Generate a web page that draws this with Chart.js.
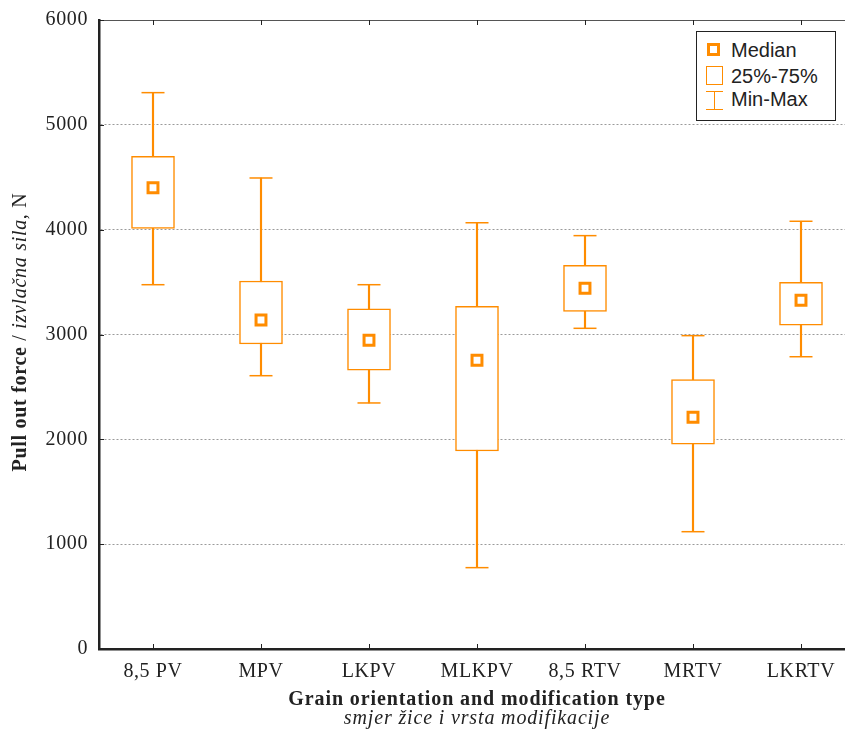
<!DOCTYPE html>
<html>
<head>
<meta charset="utf-8">
<script src="https://cdn.jsdelivr.net/npm/chart.js@4.4.1/dist/chart.umd.min.js"></script>
<style>
    html, body { margin: 0; padding: 0; background: #fff; overflow: hidden; }
    #wrap { position: relative; width: 845px; height: 743px; overflow: hidden; }
    #chart { position: absolute; left: 0; top: 0; }
    #legend {
        position: absolute; left: 696px; top: 31px; width: 140px; height: 90px;
        box-sizing: border-box; border: 1px solid #222; background: #fff;
        font-family: 'Liberation Sans', Arial, sans-serif; font-size: 20px; color: #222;
    }
    #legend .row { position: absolute; left: 34px; line-height: 22px; white-space: nowrap; }
    #legend .ico { position: absolute; box-sizing: border-box; }
    .ico-med { left: 10px; top: 11px; width: 13px; height: 13px; border: 3px solid #ff8c00; }
    .ico-box { left: 9px; top: 34px; width: 17px; height: 19px; border: 1.5px solid #ff8c00; }
    .ico-rng { left: 9px; top: 59px; width: 17px; height: 19px; border-top: 1.5px solid #ff8c00; border-bottom: 1.5px solid #ff8c00; }
    .ico-rng::after { content: ''; position: absolute; left: 7.5px; top: 0; width: 1.5px; height: 100%; background: #ff8c00; }
</style>
</head>
<body>
<div id="wrap">
    <canvas id="chart" width="868" height="743"></canvas>
    <div id="legend">
        <div class="ico ico-med"></div><div class="row" style="top:7px">Median</div>
        <div class="ico ico-box"></div><div class="row" style="top:33px">25%-75%</div>
        <div class="ico ico-rng"></div><div class="row" style="top:56px">Min-Max</div>
    </div>
</div>
<script>
const categories = ['8,5 PV', 'MPV', 'LKPV', 'MLKPV', '8,5 RTV', 'MRTV', 'LKRTV'];
const minValues = [3475, 2607, 2347, 776, 3059, 1119, 2788];
const q1Values = [4013, 2909, 2659, 1889, 3221, 1953, 3088];
const medianValues = [4400, 3138, 2945, 2754, 3441, 2210, 3326];
const q3Values = [4700, 3510, 3246, 3269, 3660, 2569, 3498];
const maxValues = [5307, 4493, 3475, 4066, 3943, 2989, 4080];
const yMin = 0, yMax = 6000, yStep = 1000;

const orange = '#ff8c00';
const serif = '"Liberation Serif", "Times New Roman", serif';

// the original text is set a bit wide, so spread the letters
const spacingPlugin = {
    id: 'spacing',
    beforeDraw(chart) { chart.ctx.letterSpacing = '0.6px'; },
    afterDraw(chart) { chart.ctx.letterSpacing = '0px'; }
};

// frame, inner tick marks and axis titles
const framePlugin = {
    id: 'frame',
    afterDraw(chart) {
        const { ctx, chartArea: a, scales: { x, y } } = chart;
        ctx.save();
        ctx.strokeStyle = '#555';
        ctx.lineWidth = 1;
        ctx.beginPath();
        ctx.moveTo(a.left, a.top + 0.5);
        ctx.lineTo(a.right, a.top + 0.5);
        ctx.moveTo(a.right - 0.5, a.top);
        ctx.lineTo(a.right - 0.5, a.bottom);
        ctx.stroke();

        ctx.strokeStyle = '#222';
        ctx.beginPath();
        categories.forEach((c, i) => {
            const px = Math.round(x.getPixelForValue(i)) + 0.5;
            ctx.moveTo(px, a.bottom);
            ctx.lineTo(px, a.bottom - 5);
            ctx.moveTo(px, a.top);
            ctx.lineTo(px, a.top + 5);
        });
        y.ticks.forEach(t => {
            const py = Math.round(y.getPixelForValue(t.value)) + 0.5;
            ctx.moveTo(a.left, py);
            ctx.lineTo(a.left + 5, py);
        });
        ctx.stroke();

        // x title
        const cx = (a.left + a.right) / 2;
        ctx.fillStyle = '#222';
        ctx.textAlign = 'center';
        ctx.textBaseline = 'alphabetic';
        ctx.letterSpacing = '0.9px';
        ctx.font = 'bold 20px ' + serif;
        ctx.fillText('Grain orientation and modification type', cx, 705);
        ctx.letterSpacing = '0.85px';
        ctx.font = 'italic 20px ' + serif;
        ctx.fillText('smjer žice i vrsta modifikacije', cx, 724);

        // y title, mixed styles
        const runs = [
            ['bold 20px ', 'Pull out force'],
            ['20px ', ' / '],
            ['italic 20px ', 'izvlačna sila'],
            ['20px ', ', N']
        ];
        ctx.letterSpacing = '0.7px';
        let total = 0;
        runs.forEach(r => { ctx.font = r[0] + serif; total += ctx.measureText(r[1]).width; });
        ctx.translate(26, 332);
        ctx.rotate(-Math.PI / 2);
        ctx.textAlign = 'left';
        let pos = -total / 2;
        runs.forEach(r => {
            ctx.font = r[0] + serif;
            ctx.fillText(r[1], pos, 0);
            pos += ctx.measureText(r[1]).width;
        });
        ctx.restore();
    }
};

new Chart(document.getElementById('chart'), {
    type: 'bar',
    data: {
        labels: categories,
        datasets: [
            {
                type: 'line',
                label: 'Median',
                data: medianValues,
                showLine: false,
                pointStyle: 'rect',
                pointRadius: 7,
                pointBorderWidth: 3,
                pointBorderColor: orange,
                pointBackgroundColor: '#fff',
                order: 0
            },
            {
                type: 'line',
                label: 'Max',
                data: maxValues,
                showLine: false,
                pointStyle: 'line',
                pointRadius: 11.5,
                pointBorderWidth: 1.5,
                pointBorderColor: orange,
                order: 1
            },
            {
                type: 'line',
                label: 'Min',
                data: minValues,
                showLine: false,
                pointStyle: 'line',
                pointRadius: 11.5,
                pointBorderWidth: 1.5,
                pointBorderColor: orange,
                order: 1
            },
            {
                label: '25%-75%',
                data: categories.map((c, i) => [q1Values[i], q3Values[i]]),
                backgroundColor: '#fff',
                borderColor: orange,
                borderWidth: 1.5,
                borderSkipped: false,
                barThickness: 43,
                grouped: false,
                order: 2
            },
            {
                label: 'Min-Max',
                data: categories.map((c, i) => [minValues[i], maxValues[i]]),
                backgroundColor: orange,
                borderWidth: 0,
                barThickness: 1.5,
                grouped: false,
                order: 3
            }
        ]
    },
    options: {
        responsive: false,
        animation: false,
        layout: { padding: { top: 20, right: 5, left: 0, bottom: 0 } },
        plugins: {
            legend: { display: false },
            tooltip: { enabled: false }
        },
        scales: {
            x: {
                offset: true,
                grid: { display: false, drawTicks: false },
                border: { display: true, color: '#222', width: 2.5 },
                ticks: { color: '#222', font: { family: serif, size: 20 }, padding: 11, maxRotation: 0 },
                afterFit(s) { s.height = 94; }
            },
            y: {
                min: yMin,
                max: yMax,
                grid: {
                    drawTicks: false,
                    lineWidth: 1,
                    color: c => (c.tick && (c.tick.value === yMin || c.tick.value === yMax)) ? 'rgba(0,0,0,0)' : '#9a9a9a'
                },
                border: { display: true, color: '#222', width: 2.5, dash: [2, 2] },
                ticks: {
                    stepSize: yStep,
                    color: '#222',
                    font: { family: serif, size: 20 },
                    padding: 11,
                    callback: v => String(v)
                },
                afterFit(s) {
                    s.width = 99;
                    s.paddingTop = 0;
                    s.paddingBottom = 0;
                }
            }
        }
    },
    plugins: [spacingPlugin, framePlugin]
});
</script>
</body>
</html>
